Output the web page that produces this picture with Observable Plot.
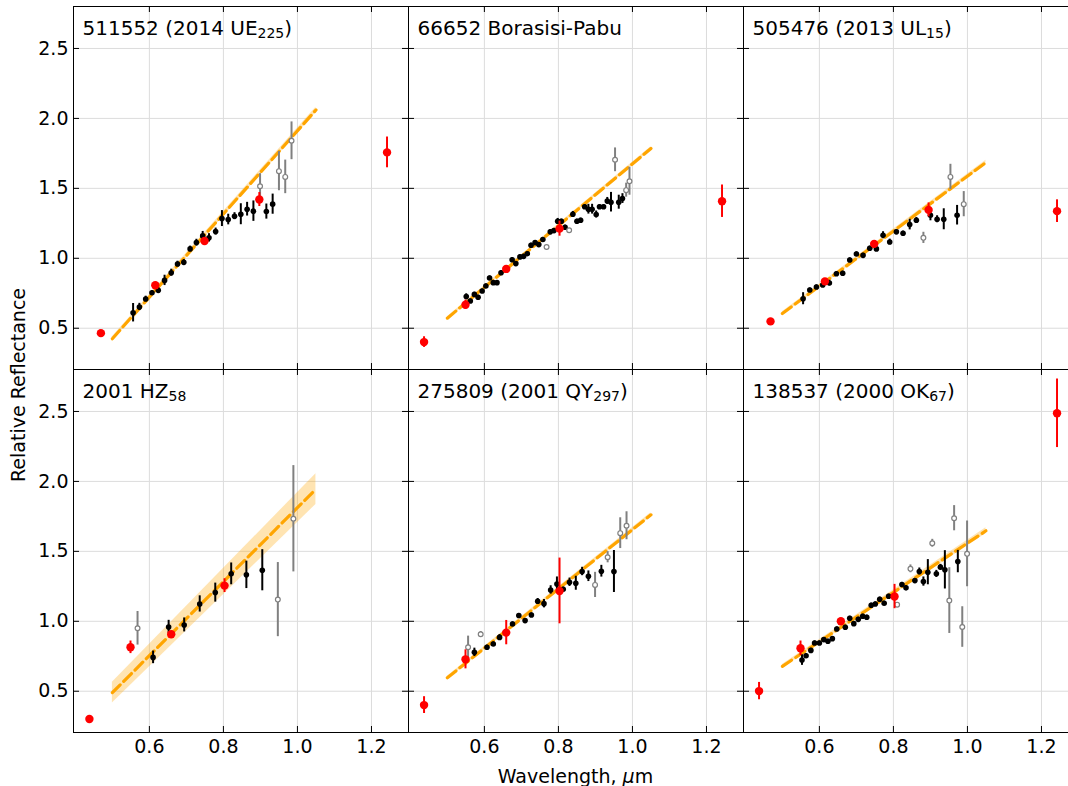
<!DOCTYPE html>
<html>
<head>
<meta charset="utf-8">
<script src="https://cdn.jsdelivr.net/npm/d3@7"></script>
<script src="https://cdn.jsdelivr.net/npm/@observablehq/plot@0.6"></script>
<style>
  html, body { margin: 0; padding: 0; background: white; overflow: hidden; }
  #wrap { width: 1068px; height: 786px; overflow: hidden; position: relative; }
  #wrap svg { max-width: none !important; }
</style>
</head>
<body>
<div id="wrap"></div>
<script>
// ---- axes / ticks ----
const xDomain = [0.395, 1.30];
const yDomain = [0.205, 2.80];
const xTicks = [0.6, 0.8, 1.0, 1.2];
const yTicks = [0.5, 1.0, 1.5, 2.0, 2.5];

// ---- panel titles (main text, subscript, tail) ----
const titleMain = ["511552 (2014 UE", "66652 Borasisi-Pabu", "505476 (2013 UL", "2001 HZ", "275809 (2001 QY", "138537 (2000 OK"];
const titleSub  = ["225", "", "15", "58", "297", "67"];
const titleTail = [")", "", ")", "", ")", ")"];

// ---- photometric colours: [panel, wavelength, reflectance, error] ----
const photometry = [
  [0,0.469,0.465,0.01],[0,0.616,0.807,0.015],[0,0.749,1.124,0.015],[0,0.897,1.42,0.05],[0,1.242,1.757,0.11],
  [1,0.437,0.401,0.038],[1,0.549,0.668,0.033],[1,0.659,0.924,0.015],[1,0.803,1.212,0.054],[1,1.242,1.408,0.116],
  [2,0.468,0.549,0.01],[2,0.615,0.835,0.012],[2,0.748,1.103,0.015],[2,0.895,1.346,0.05],[2,1.242,1.337,0.081],
  [3,0.438,0.301,0.01],[3,0.549,0.814,0.045],[3,0.659,0.907,0.015],[3,0.803,1.255,0.049],
  [4,0.437,0.401,0.06],[4,0.549,0.728,0.068],[4,0.659,0.919,0.087],[4,0.803,1.217,0.235],
  [5,0.437,0.501,0.062],[5,0.549,0.807,0.052],[5,0.658,1.000,0.015],[5,0.803,1.177,0.087],[5,1.242,2.487,0.245]
];

// ---- spectrum points: [panel, wavelength, reflectance, error] ----
const spectrum = [
  [0,0.556,0.611,0.066],[0,0.573,0.652,0.026],[0,0.590,0.709,0.02],[0,0.607,0.754,0.015],[0,0.624,0.771,0.02],[0,0.641,0.842,0.037],[0,0.659,0.897,0.025],[0,0.676,0.959,0.02],[0,0.693,0.971,0.02],[0,0.710,1.067,0.02],[0,0.727,1.112,0.024],[0,0.744,1.160,0.032],[0,0.761,1.146,0.03],[0,0.779,1.191,0.025],[0,0.796,1.284,0.057],[0,0.813,1.277,0.038],[0,0.830,1.301,0.025],[0,0.847,1.315,0.075],[0,0.864,1.351,0.049],[0,0.881,1.337,0.073],[0,0.916,1.334,0.054],[0,0.933,1.387,0.072],
  [1,0.551,0.726,0.02],[1,0.562,0.695,0.015],[1,0.573,0.742,0.015],[1,0.583,0.721,0.015],[1,0.594,0.766,0.015],[1,0.604,0.802,0.015],[1,0.614,0.859,0.015],[1,0.624,0.826,0.015],[1,0.634,0.826,0.015],[1,0.645,0.897,0.015],[1,0.675,0.990,0.015],[1,0.685,0.962,0.015],[1,0.696,1.010,0.015],[1,0.706,1.014,0.015],[1,0.716,1.033,0.015],[1,0.726,1.093,0.015],[1,0.737,1.112,0.015],[1,0.747,1.098,0.015],[1,0.758,1.134,0.015],[1,0.778,1.189,0.015],[1,0.788,1.198,0.015],[1,0.798,1.265,0.02],[1,0.808,1.265,0.015],[1,0.818,1.222,0.015],[1,0.839,1.315,0.02],[1,0.850,1.265,0.015],[1,0.860,1.272,0.015],[1,0.871,1.368,0.015],[1,0.881,1.351,0.035],[1,0.891,1.351,0.035],[1,0.902,1.313,0.025],[1,0.911,1.368,0.015],[1,0.922,1.368,0.015],[1,0.932,1.410,0.025],[1,0.942,1.401,0.07],[1,0.963,1.401,0.05],[1,0.973,1.427,0.035],
  [2,0.556,0.711,0.043],[2,0.574,0.773,0.015],[2,0.592,0.795,0.015],[2,0.609,0.809,0.015],[2,0.627,0.823,0.02],[2,0.646,0.890,0.015],[2,0.663,0.893,0.015],[2,0.682,0.988,0.015],[2,0.700,1.031,0.015],[2,0.718,1.021,0.015],[2,0.736,1.072,0.015],[2,0.754,1.067,0.015],[2,0.772,1.165,0.025],[2,0.790,1.117,0.02],[2,0.808,1.189,0.015],[2,0.826,1.179,0.015],[2,0.844,1.241,0.038],[2,0.862,1.272,0.02],[2,0.900,1.308,0.04],[2,0.918,1.279,0.025],[2,0.936,1.279,0.075],[2,0.972,1.308,0.07],
  [3,0.610,0.742,0.045],[3,0.652,0.959,0.048],[3,0.694,0.974,0.05],[3,0.736,1.124,0.058],[3,0.778,1.205,0.068],[3,0.821,1.339,0.078],[3,0.862,1.332,0.098],[3,0.905,1.365,0.147],
  [4,0.573,0.778,0.03],[4,0.607,0.814,0.015],[4,0.624,0.838,0.015],[4,0.641,0.885,0.02],[4,0.676,0.981,0.015],[4,0.693,1.041,0.015],[4,0.710,1.005,0.015],[4,0.727,1.045,0.015],[4,0.744,1.143,0.02],[4,0.761,1.126,0.03],[4,0.779,1.224,0.03],[4,0.796,1.267,0.05],[4,0.813,1.229,0.015],[4,0.830,1.279,0.03],[4,0.847,1.272,0.05],[4,0.864,1.356,0.03],[4,0.881,1.322,0.038],[4,0.916,1.358,0.042],[4,0.950,1.356,0.15],
  [5,0.553,0.723,0.038],[5,0.564,0.754,0.015],[5,0.577,0.792,0.015],[5,0.587,0.845,0.015],[5,0.600,0.845,0.015],[5,0.612,0.869,0.015],[5,0.623,0.857,0.015],[5,0.635,0.876,0.015],[5,0.647,0.945,0.015],[5,0.670,0.957,0.015],[5,0.682,1.021,0.015],[5,0.693,0.983,0.015],[5,0.705,1.014,0.015],[5,0.717,1.036,0.015],[5,0.728,1.029,0.015],[5,0.740,1.115,0.015],[5,0.751,1.124,0.015],[5,0.763,1.158,0.015],[5,0.775,1.129,0.015],[5,0.787,1.179,0.015],[5,0.823,1.263,0.015],[5,0.834,1.239,0.015],[5,0.858,1.291,0.015],[5,0.870,1.356,0.025],[5,0.881,1.284,0.033],[5,0.893,1.351,0.09],[5,0.916,1.339,0.025],[5,0.927,1.387,0.02],[5,0.939,1.368,0.137],[5,0.974,1.427,0.08]
];

// ---- flagged spectrum points (open grey): [panel, wavelength, reflectance, error] ----
const flagged = [
  [0,0.899,1.515,0.09],[0,0.950,1.623,0.14],[0,0.967,1.582,0.12],[0,0.984,1.84,0.135],
  [1,0.768,1.081,0.01],[1,0.829,1.200,0.01],[1,0.953,1.704,0.085],[1,0.983,1.487,0.05],[1,0.992,1.551,0.1],
  [2,0.881,1.146,0.04],[2,0.954,1.582,0.09],[2,0.990,1.387,0.09],
  [3,0.568,0.950,0.12],[3,0.947,1.155,0.265],[3,0.989,1.733,0.38],
  [4,0.556,0.814,0.08],[4,0.590,0.907,0.02],[4,0.899,1.260,0.09],[4,0.933,1.458,0.04],[4,0.967,1.630,0.11],[4,0.984,1.683,0.1],
  [5,0.810,1.119,0.015],[5,0.846,1.375,0.028],[5,0.905,1.558,0.028],[5,0.951,1.148,0.235],[5,0.964,1.737,0.09],[5,0.986,0.959,0.145],[5,0.999,1.482,0.235]
];

// ---- linear fits: [panel, wavelength, fit, lower, upper] ----
const fitLines = [
  [0,0.5,0.425,0.41,0.44],[0,1.05,2.06,2.04,2.08],
  [1,0.5,0.572,0.562,0.582],[1,1.05,1.785,1.772,1.798],
  [2,0.5,0.605,0.593,0.617],[2,1.05,1.685,1.67,1.70],
  [3,0.5,0.49,0.415,0.565],[3,1.05,1.945,1.835,2.055],
  [4,0.5,0.596,0.584,0.608],[4,1.05,1.761,1.746,1.776],
  [5,0.5,0.678,0.665,0.691],[5,1.05,1.647,1.625,1.669]
];

// ---- layout ----
const W = 1078, H = 786, ML = 73, MR = 0, MT = 6, MB = 54;
const PW = (W - ML - MR) / 3, PH = (H - MT - MB) / 2;
const TICK = 6;

const fx = d => d[0] % 3;
const fy = d => Math.floor(d[0] / 3);
const X = d => d[1], Y = d => d[2];
const lo = d => d[2] - d[3], hi = d => d[2] + d[3];

const plot = Plot.plot({
  width: W, height: H,
  marginLeft: ML, marginRight: MR, marginTop: MT, marginBottom: MB,
  x: {domain: xDomain},
  y: {domain: yDomain},
  fx: {domain: [0, 1, 2], padding: 0, axis: null},
  fy: {domain: [0, 1], padding: 0, axis: null},
  style: {fontFamily: "DejaVu Sans", fontSize: "19px", background: "white", maxWidth: "none", overflow: "visible", color: "black"},
  marks: [
    Plot.gridX(xTicks, {stroke: "#dcdcdc", strokeOpacity: 1, strokeWidth: 1}),
    Plot.gridY(yTicks, {stroke: "#dcdcdc", strokeOpacity: 1, strokeWidth: 1}),
    Plot.areaY(fitLines, {x: X, y1: d => d[3], y2: d => d[4], z: d => d[0], fx, fy, fill: "#ffa500", fillOpacity: 0.3}),
    Plot.line(fitLines, {x: X, y: Y, z: d => d[0], fx, fy, stroke: "#ffa500", strokeWidth: 3.2, strokeDasharray: "11,5"}),
    // spectrum
    Plot.ruleX(spectrum, {x: X, y1: lo, y2: hi, fx, fy, stroke: "black", strokeWidth: 2}),
    Plot.dot(spectrum, {x: X, y: Y, fx, fy, r: 2.8, fill: "black", stroke: "none"}),
    // flagged
    Plot.ruleX(flagged, {x: X, y1: lo, y2: hi, fx, fy, stroke: "#808080", strokeWidth: 2}),
    Plot.dot(flagged, {x: X, y: Y, fx, fy, r: 2.4, fill: "white", stroke: "#808080", strokeWidth: 1.2}),
    // photometry
    Plot.ruleX(photometry, {x: X, y1: lo, y2: hi, fx, fy, stroke: "red", strokeWidth: 2}),
    Plot.dot(photometry, {x: X, y: Y, fx, fy, r: 4.2, fill: "red", stroke: "none"}),
    // inward ticks on all four sides
    Plot.tickX(xTicks, {x: d => d, insetTop: PH - TICK, stroke: "black", strokeWidth: 1}),
    Plot.tickX(xTicks, {x: d => d, insetBottom: PH - TICK, stroke: "black", strokeWidth: 1}),
    Plot.tickY(yTicks, {y: d => d, insetRight: PW - TICK, stroke: "black", strokeWidth: 1}),
    Plot.tickY(yTicks, {y: d => d, insetLeft: PW - TICK, stroke: "black", strokeWidth: 1}),
    Plot.frame({stroke: "black", strokeWidth: 1}),
    Plot.axisX({ticks: xTicks, anchor: "bottom", facetAnchor: "bottom", tickSize: 0, tickPadding: 7, tickFormat: ".1f", label: null, fontSize: 19}),
    Plot.axisY({ticks: yTicks, anchor: "left", facetAnchor: "left", tickSize: 0, tickPadding: 5, tickFormat: ".1f", label: null, fontSize: 19}),
    // panel titles
    Plot.text(d3.range(6), {
      fx: i => i % 3, fy: i => Math.floor(i / 3),
      text: i => titleMain[i],
      frameAnchor: "top-left", dx: 9, dy: 28, lineAnchor: "bottom",
      textAnchor: "start", fontSize: 20, fill: "black", ariaLabel: "panel-title"
    })
  ]
});

// subscripts in titles
d3.select(plot).selectAll("text").each(function () {
  const i = titleMain.indexOf(this.textContent);
  if (i >= 0 && titleSub[i]) {
    const s = d3.select(this);
    s.append("tspan").attr("font-size", 14).attr("dy", 3).text(titleSub[i]);
    s.append("tspan").attr("font-size", 20).attr("dy", -3).text(titleTail[i]);
  }
});

// figure-level axis labels
const svg = d3.select(plot);
const xl = svg.append("text")
  .attr("x", (ML + W - MR) / 2).attr("y", 783)
  .attr("text-anchor", "middle").attr("font-size", 19).attr("fill", "black");
xl.append("tspan").text("Wavelength, ");
xl.append("tspan").attr("font-style", "italic").text("μ");
xl.append("tspan").text("m");
svg.append("text")
  .attr("transform", "translate(25,385) rotate(-90)")
  .attr("text-anchor", "middle").attr("font-size", 19).attr("fill", "black")
  .text("Relative Reflectance");

document.getElementById("wrap").appendChild(plot);
</script>
</body>
</html>
